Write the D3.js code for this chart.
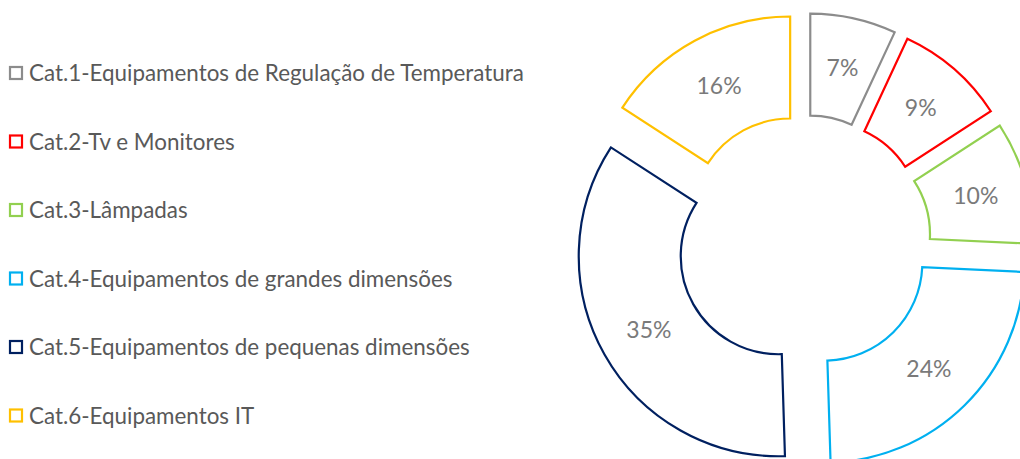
<!DOCTYPE html>
<html lang="en">
<head>
<meta charset="UTF-8">
<title>Donut</title>
<script src="https://cdn.jsdelivr.net/npm/d3@7"></script>
<style>
  body { margin: 0; background: #fff; }
  text { font-family: Lato, "Open Sans", sans-serif; }
</style>
</head>
<body>
<svg width="1020" height="459"></svg>
<script>
const categories = [
  "Cat.1-Equipamentos de Regulação de Temperatura",
  "Cat.2-Tv e Monitores",
  "Cat.3-Lâmpadas",
  "Cat.4-Equipamentos de grandes dimensões",
  "Cat.5-Equipamentos de pequenas dimensões",
  "Cat.6-Equipamentos IT"
];
const values = [7, 9, 10, 24, 35, 16];
const labels = ["7%", "9%", "10%", "24%", "35%", "16%"];
const colors = ["#8c8c8c", "#ff0000", "#92d050", "#00b0f0", "#002060", "#ffc000"];

const svg = d3.select("svg");
const cx = 804, cy = 242, explode = 29;

const pie = d3.pie().sort(null).value(d => d)(values);
const arc = d3.arc().innerRadius(98).outerRadius(200);

const g = svg.append("g").attr("transform", `translate(${cx},${cy})`);

const slices = g.selectAll("g.slice")
  .data(pie)
  .join("g")
  .attr("class", "slice")
  .attr("transform", d => {
    const a = (d.startAngle + d.endAngle) / 2;
    return `translate(${explode * Math.sin(a)},${-explode * Math.cos(a)})`;
  });

slices.append("path")
  .attr("d", arc)
  .attr("fill", "#fff")
  .attr("stroke", (d, i) => colors[i])
  .attr("stroke-width", 2.2)
  .attr("stroke-linejoin", "miter");

slices.append("text")
  .attr("transform", d => `translate(${arc.centroid(d)})`)
  .attr("text-anchor", "middle")
  .attr("dy", "0.36em")
  .attr("fill", "#7a7a7a")
  .attr("font-size", 23)
  .text((d, i) => labels[i]);

// legend
const legend = svg.append("g");
const rowY = d3.scalePoint().domain(d3.range(categories.length)).range([73, 415.5]);

const rows = legend.selectAll("g")
  .data(categories)
  .join("g")
  .attr("transform", (d, i) => `translate(0,${rowY(i)})`);

rows.append("rect")
  .attr("x", 10).attr("y", -6)
  .attr("width", 12).attr("height", 12)
  .attr("fill", "#fff")
  .attr("stroke", (d, i) => colors[i])
  .attr("stroke-width", 2.2);

rows.append("text")
  .attr("x", 29)
  .attr("dy", "0.36em")
  .attr("fill", "#595959")
  .attr("font-size", 22.4)
  .text(d => d);
</script>
</body>
</html>
